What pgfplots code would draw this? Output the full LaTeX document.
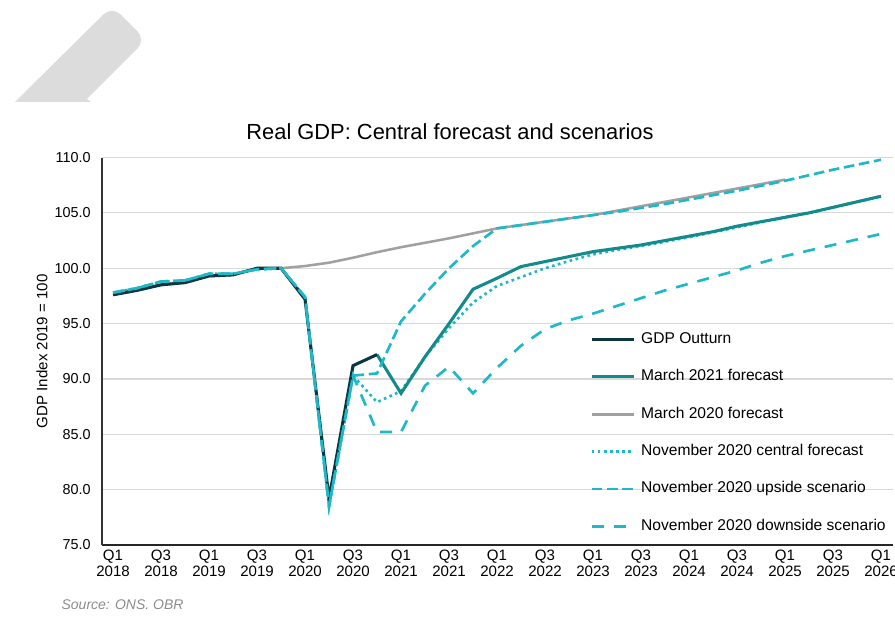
\documentclass[border=0pt]{standalone}
\usepackage{fontspec}
\setmainfont{Liberation Sans}
\usepackage{pgfplots}
\pgfplotsset{compat=1.18}
\usepackage{pgfplotstable}

\definecolor{gdpdark}{HTML}{0B3540}
\definecolor{mar21}{HTML}{138A8C}
\definecolor{mar20}{HTML}{A0A0A0}
\definecolor{nov}{HTML}{1EB8C6}
\definecolor{gridc}{HTML}{D9D9D9}
\definecolor{deco}{HTML}{DCDCDC}

\pgfplotstableread{
x y
0 97.6
1 98.0
2 98.5
3 98.7
4 99.3
5 99.4
6 100.0
7 100.0
8 97.2
9 79.2
10 91.2
11 92.2
}\gdp

\pgfplotstableread{
x y
11 92.2
12 88.7
13 92.0
14 95.0
15 98.1
16 99.1
17 100.15
18 100.6
19 101.05
20 101.5
21 101.8
22 102.1
23 102.5
24 102.9
25 103.3
26 103.8
27 104.2
28 104.6
29 105.0
30 105.5
31 106.0
32 106.5
}\marA

\pgfplotstableread{
x y
0 97.6
1 98.0
2 98.5
3 98.7
4 99.3
5 99.4
6 100.0
7 100.0
8 100.2
9 100.5
10 100.95
11 101.45
12 101.9
13 102.3
14 102.7
15 103.15
16 103.6
17 103.9
18 104.2
19 104.5
20 104.8
21 105.2
22 105.6
23 106.0
24 106.4
25 106.8
26 107.2
27 107.6
28 108.0
}\marB

\pgfplotstableread{
x y
0 97.8
1 98.2
2 98.8
3 98.9
4 99.5
5 99.5
6 99.9
7 100.0
8 97.4
9 78.5
10 90.3
11 87.9
12 88.9
13 92.0
14 94.6
15 96.9
16 98.4
17 99.2
18 100.0
19 100.65
20 101.25
21 101.65
22 102.0
23 102.4
24 102.8
25 103.25
26 103.7
27 104.15
28 104.6
29 105.0
30 105.5
31 106.0
32 106.5
}\novC

\pgfplotstableread{
x y
0 97.8
1 98.2
2 98.8
3 98.9
4 99.5
5 99.5
6 99.9
7 100.0
8 97.4
9 78.5
10 90.3
11 90.5
12 95.2
13 97.7
14 100.0
15 102.0
16 103.6
17 103.9
18 104.2
19 104.5
20 104.8
21 105.1
22 105.45
23 105.8
24 106.2
25 106.6
26 107.0
27 107.45
28 107.9
29 108.4
30 108.9
31 109.35
32 109.8
}\novU

\pgfplotstableread{
x y
0 97.8
1 98.2
2 98.8
3 98.9
4 99.5
5 99.5
6 99.9
7 100.0
8 97.4
9 78.5
10 90.3
11 85.2
12 85.2
13 89.4
14 91.1
15 88.7
16 91.0
17 93.0
18 94.5
19 95.3
20 95.9
21 96.6
22 97.3
23 98.0
24 98.6
25 99.2
26 99.8
27 100.5
28 101.1
29 101.6
30 102.1
31 102.6
32 103.1
}\novD

\begin{document}
\begin{tikzpicture}
\path[use as bounding box] (0,0) rectangle (671.25pt,462.75pt);
% decorative watermark shape (top left)
\begin{scope}[x=0.75pt,y=-0.75pt,yshift=462.75pt]
\fill[deco] (15,102) [rounded corners=9pt] -- (112,6) -- (146,40) [sharp corners] -- (87,99) -- (91,102) -- cycle;
\end{scope}

\node[font=\fontsize{16.4}{19}\selectfont, anchor=center] at (337.5pt,363.75pt) {Real GDP: Central forecast and scenarios};
\node[font=\fontsize{10.5}{12}\selectfont\itshape, text=gray!90, anchor=west, inner sep=0pt] at (46pt,9pt) {Source: ONS. OBR};

\begin{axis}[
  at={(76.5pt,54pt)}, anchor=south west,
  scale only axis, width=593.25pt, height=290.6pt,
  xmin=-0.46, xmax=32.5, ymin=75, ymax=110,
  axis x line*=bottom, axis y line*=left,
  x axis line style={black!85, line width=1.8pt},
  y axis line style={black!80, line width=1.1pt},
  ytick={75,80,...,110},
  yticklabel style={/pgf/number format/.cd, fixed, fixed zerofill, precision=1, /tikz/.cd, xshift=-5pt},
  /pgf/number format/assume math mode=true,
  ymajorgrids, grid style={gridc, line width=0.9pt},
  xtick={0,2,...,32},
  xticklabels={{Q1\\2018},{Q3\\2018},{Q1\\2019},{Q3\\2019},{Q1\\2020},{Q3\\2020},{Q1\\2021},{Q3\\2021},{Q1\\2022},{Q3\\2022},{Q1\\2023},{Q3\\2023},{Q1\\2024},{Q3\\2024},{Q1\\2025},{Q3\\2025},{Q1\\2026}},
  xticklabel style={align=center, font=\fontsize{11.3}{12}\selectfont},
  yticklabel style={font=\fontsize{10.8}{13}\selectfont},
  major tick length=0pt,
  ylabel={GDP Index 2019 = 100},
  ylabel style={font=\fontsize{11.3}{13}\selectfont, at={(axis description cs:-0.076,0.5)}, anchor=center, rotate=0},
  legend style={draw=none, fill=none, at={(axis cs:19.7,94.72)}, anchor=north west,
    font=\fontsize{11.7}{13}\selectfont, row sep=13pt, column sep=2.5pt,
    nodes={text height=8.5pt, text depth=2.5pt, inner sep=2pt}},
  legend cell align=left,
  legend image code/.code={\draw[#1] (0pt,0pt) -- (31.5pt,0pt);},
]
\addlegendimage{gdpdark, line width=2.3pt}
\addlegendentry{GDP Outturn}
\addlegendimage{mar21, line width=2.3pt}
\addlegendentry{March 2021 forecast}
\addlegendimage{mar20, line width=1.9pt}
\addlegendentry{March 2020 forecast}
\addlegendimage{nov, line width=2pt, dash pattern=on 2pt off 2.6pt}
\addlegendentry{November 2020 central forecast}
\addlegendimage{nov, line width=2pt, dash pattern=on 8pt off 3.5pt}
\addlegendentry{November 2020 upside scenario}
\addlegendimage{nov, line width=2pt, dash pattern=on 9pt off 7.5pt}
\addlegendentry{November 2020 downside scenario}

\addplot[mar20, line width=1.9pt, forget plot] table[x=x,y=y] {\marB};
\addplot[nov, line width=2pt, dash pattern=on 2pt off 2.6pt, forget plot] table[x=x,y=y] {\novC};
\addplot[mar21, line width=2.3pt, forget plot] table[x=x,y=y] {\marA};
\addplot[gdpdark, line width=2.3pt, forget plot] table[x=x,y=y] {\gdp};
\addplot[nov, line width=2pt, dash pattern=on 8pt off 3.5pt, forget plot] table[x=x,y=y] {\novU};
\addplot[nov, line width=2pt, dash pattern=on 9pt off 7.5pt, forget plot] table[x=x,y=y] {\novD};
\end{axis}
\end{tikzpicture}
\end{document}
